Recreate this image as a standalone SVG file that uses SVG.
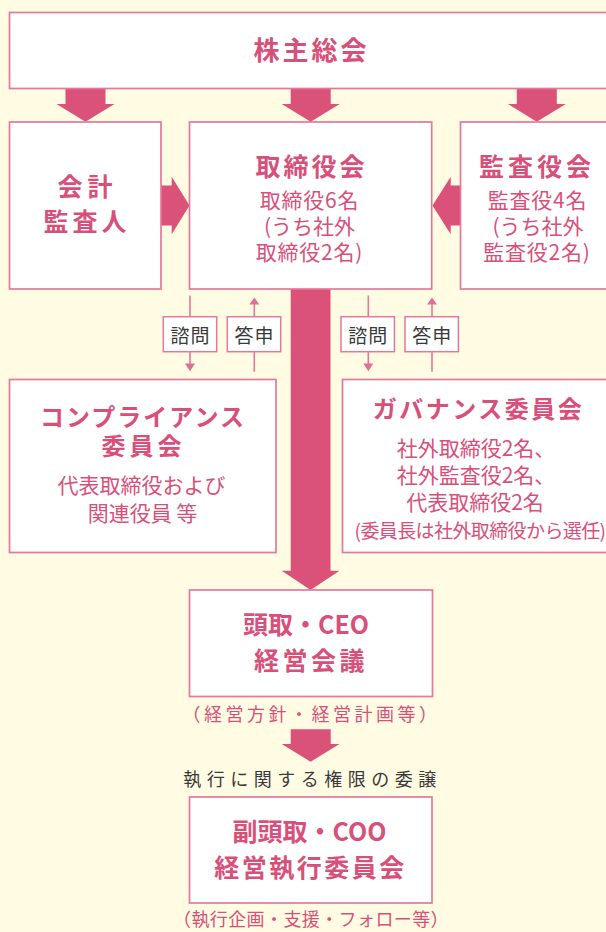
<svg xmlns="http://www.w3.org/2000/svg" width="606" height="932" viewBox="0 0 606 932">
<style>
.bg{fill:#FFFCE3}
.box{fill:#FFFFFF;stroke:#E3789A;stroke-width:1.7}
.lbl{fill:#FFFFFF;stroke:#E3789A;stroke-width:1.5}
.arr{fill:#DA5279}
.ln{stroke:#E3789A;stroke-width:1.6;fill:none}
.ah{fill:#E06F93}
text{font-family:"Noto Sans CJK JP","Noto Sans",sans-serif;text-anchor:middle}
.t{fill:#D8507A;font-weight:700;font-size:25px;letter-spacing:3px}
.b{fill:#D8507A;font-weight:400;font-size:21px}
.s{fill:#D8507A;font-weight:400;font-size:18px}
.d{fill:#3A3A3A;font-weight:400;font-size:19px;letter-spacing:1px}
</style>
<rect class="bg" x="0" y="0" width="606" height="932"/>

<g id="connectors">
  <polygon class="arr" points="65.5,88 105.5,88 105.5,104 114.5,104 85.5,121.7 56.5,104 65.5,104"/>
  <polygon class="arr" points="290.7,88 330.7,88 330.7,104 339.7,104 310.7,121.7 281.7,104 290.7,104"/>
  <polygon class="arr" points="516.8,88 556.8,88 556.8,104 565.8,104 536.8,121.7 507.8,104 516.8,104"/>
  <polygon class="arr" points="161,185.5 171.7,185.5 171.7,176.7 189.5,205.5 171.7,234.3 171.7,225.5 161,225.5"/>
  <polygon class="arr" points="460.7,185.5 450.7,185.5 450.7,176.7 432.5,205.5 450.7,234.3 450.7,225.5 460.7,225.5"/>
  <polygon class="arr" points="290.7,289 330.5,289 330.5,570.7 339.5,570.7 310.6,590 281.7,570.7 290.7,570.7"/>
  <polygon class="arr" points="290.7,729.3 330.7,729.3 330.7,744 339.5,744 310.6,761.7 281.7,744 290.7,744"/>
  <line class="ln" x1="190" y1="295.5" x2="190" y2="364"/>
  <polygon class="ah" points="185,363.5 195,363.5 190,371.2"/>
  <line class="ln" x1="254.3" y1="304" x2="254.3" y2="371.7"/>
  <polygon class="ah" points="249.3,304.5 259.3,304.5 254.3,297.5"/>
  <line class="ln" x1="368.3" y1="295.5" x2="368.3" y2="364"/>
  <polygon class="ah" points="363.3,363.5 373.3,363.5 368.3,371.2"/>
  <line class="ln" x1="432" y1="304" x2="432" y2="371.7"/>
  <polygon class="ah" points="427,304.5 437,304.5 432,297.5"/>
  <g id="lbl-shimon-1">
    <rect class="lbl" x="163.3" y="316.7" width="53.4" height="35"/>
    <text class="d" x="190.5" y="342.5">諮問</text>
  </g>
  <g id="lbl-toshin-1">
    <rect class="lbl" x="227.3" y="316.7" width="53.4" height="35"/>
    <text class="d" x="254.5" y="342.5">答申</text>
  </g>
  <g id="lbl-shimon-2">
    <rect class="lbl" x="341" y="316.7" width="53.4" height="35"/>
    <text class="d" x="368.2" y="342.5">諮問</text>
  </g>
  <g id="lbl-toshin-2">
    <rect class="lbl" x="405" y="316.7" width="53.4" height="35"/>
    <text class="d" x="432.2" y="342.5">答申</text>
  </g>
</g>

<g id="shareholders">
  <rect class="box" x="9.5" y="12.5" width="610" height="76"/>
  <text class="t" x="311.5" y="60" style="font-size:26px;letter-spacing:3px">株主総会</text>
</g>

<g id="auditor">
  <rect class="box" x="9.5" y="122" width="151.5" height="167"/>
  <text class="t" x="87.5" y="196" style="letter-spacing:5px">会計</text>
  <text class="t" x="87" y="231" style="letter-spacing:4px">監査人</text>
</g>

<g id="board">
  <rect class="box" x="189.5" y="122" width="242.2" height="167"/>
  <text class="t" x="311.5" y="176">取締役会</text>
  <text class="b" x="309.5" y="208" style="letter-spacing:0.8px">取締役6名</text>
  <text class="b" x="309.5" y="234">(うち社外</text>
  <text class="b" x="309.5" y="260" style="letter-spacing:0.8px">取締役2名)</text>
</g>

<g id="kansayaku">
  <rect class="box" x="460.5" y="122" width="160" height="167"/>
  <text class="t" x="537" y="176" style="letter-spacing:4px">監査役会</text>
  <text class="b" x="537.5" y="208" style="letter-spacing:0.8px">監査役4名</text>
  <text class="b" x="538" y="234">(うち社外</text>
  <text class="b" x="537" y="260" style="letter-spacing:0.8px">監査役2名)</text>
</g>

<g id="compliance">
  <rect class="box" x="9.5" y="379.5" width="266.5" height="173"/>
  <text class="t" x="143" y="426" style="font-size:24px;letter-spacing:2px">コンプライアンス</text>
  <text class="t" x="143.5" y="455" style="font-size:24px;letter-spacing:4px">委員会</text>
  <text class="b" x="141.5" y="493">代表取締役および</text>
  <text class="b" x="142.5" y="521">関連役員 等</text>
</g>

<g id="governance">
  <rect class="box" x="342.5" y="379.5" width="280" height="173"/>
  <text class="t" x="478.5" y="418" style="font-size:24px;letter-spacing:2.5px">ガバナンス委員会</text>
  <text class="b" x="476" y="456">社外取締役2名、</text>
  <text class="b" x="476" y="483">社外監査役2名、</text>
  <text class="b" x="475" y="510">代表取締役2名</text>
  <text class="b" x="480" y="538" style="font-size:19px;letter-spacing:-0.6px">(委員長は社外取締役から選任)</text>
</g>

<g id="ceo">
  <rect class="box" x="189.5" y="590" width="243" height="106.5"/>
  <text class="t" x="306" y="634" style="letter-spacing:0px">頭取・CEO</text>
  <text class="t" x="311" y="670" style="letter-spacing:3.5px">経営会議</text>
  <text class="s" x="311.5" y="721" style="letter-spacing:3.5px">（経営方針・経営計画等）</text>
</g>

<text class="s" x="312.5" y="786" style="fill:#3A3A3A;letter-spacing:5.5px">執行に関する権限の委譲</text>

<g id="coo">
  <rect class="box" x="189.5" y="797" width="242.5" height="106"/>
  <text class="t" x="309.5" y="841" style="letter-spacing:0px">副頭取・COO</text>
  <text class="t" x="310.5" y="877" style="letter-spacing:2.5px">経営執行委員会</text>
  <text class="s" x="311" y="926" style="letter-spacing:0.4px">（執行企画・支援・フォロー等）</text>
</g>
</svg>
